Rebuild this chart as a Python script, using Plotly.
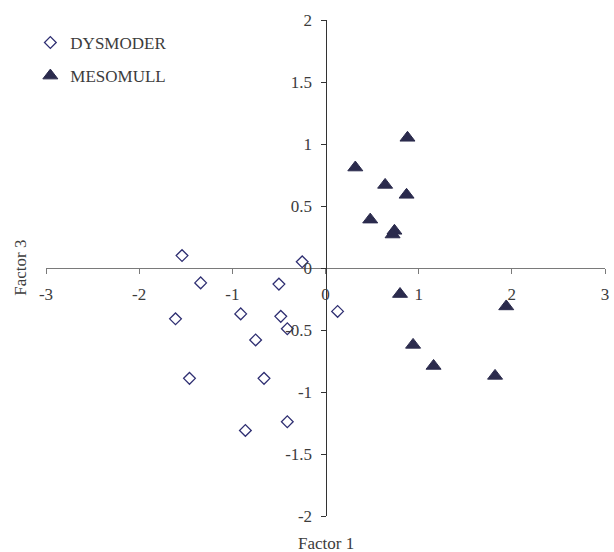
import plotly.graph_objects as go

# Data
dys_x = [-1.54, -0.25, -1.34, -0.50, -0.91, -1.61, -0.48, -0.41, -0.75, -1.46, -0.66, -0.41, -0.86, 0.13]
dys_y = [0.10, 0.05, -0.12, -0.13, -0.37, -0.41, -0.39, -0.49, -0.58, -0.89, -0.89, -1.24, -1.31, -0.35]
mes_x = [0.88, 0.32, 0.64, 0.87, 0.48, 0.74, 0.72, 0.80, 1.94, 0.94, 1.16, 1.82]
mes_y = [1.05, 0.81, 0.67, 0.59, 0.39, 0.30, 0.27, -0.21, -0.31, -0.62, -0.79, -0.87]
x_ticks = [-3, -2, -1, 0, 1, 2, 3]
y_ticks = [-2, -1.5, -1, -0.5, 0, 0.5, 1, 1.5, 2]
series_names = ["DYSMODER", "MESOMULL"]

FONT = "Times New Roman, Liberation Serif, serif"
TXT = "#3c3c3c"
AXX = "#7a7a7a"
AXY = "#333333"

fig = go.Figure()
fig.add_trace(go.Scatter(
    x=dys_x, y=dys_y, mode="markers", name=series_names[0], legendgroup="a",
    marker=dict(symbol="diamond-open", size=9, color="#2f2f72", line=dict(width=1.3, color="#2f2f72")),
))
fig.add_trace(go.Scatter(
    x=mes_x, y=mes_y, mode="markers", name=series_names[1], legendgroup="b",
    marker=dict(symbol="triangle-up", size=13, color="#2b2b4d", line=dict(width=1, color="#2b2b4d")),
))

fig.update_layout(
    width=614, height=552,
    margin=dict(l=46, r=5, t=20, b=36),
    paper_bgcolor="white", plot_bgcolor="white",
    font=dict(family=FONT, size=17, color=TXT),
    showlegend=True,
    legend=dict(x=-0.028, y=0.99, xanchor="left", yanchor="top",
                font=dict(family=FONT, size=17, color=TXT),
                bgcolor="rgba(0,0,0,0)", tracegroupgap=8, traceorder="grouped"),
    xaxis=dict(range=[-3, 3], tickvals=x_ticks, ticktext=[str(v) for v in x_ticks],
               showgrid=False, zeroline=False, showline=True, linecolor=AXX, linewidth=1,
               ticks="outside", ticklen=5, tickcolor=AXX, anchor="free", position=0.5,
               tickfont=dict(family=FONT, size=17, color=TXT), ticklabelstandoff=6),
    yaxis=dict(range=[-2, 2], tickvals=y_ticks, ticktext=[f"{v:g}" for v in y_ticks],
               showgrid=False, zeroline=False, showline=True, linecolor=AXY, linewidth=1,
               ticks="outside", ticklen=5, tickcolor=AXY, anchor="free", position=0.5,
               tickfont=dict(family=FONT, size=17, color=TXT), ticklabelstandoff=5),
    annotations=[
        dict(text="Factor 1", xref="paper", yref="paper", x=0.5, y=-0.056,
             xanchor="center", yanchor="middle", showarrow=False,
             font=dict(family=FONT, size=17, color=TXT)),
        dict(text="Factor 3", xref="paper", yref="paper", x=-0.047, y=0.5,
             xanchor="center", yanchor="middle", textangle=-90, showarrow=False,
             font=dict(family=FONT, size=17, color=TXT)),
    ],
)

fig.write_html("out.html")
